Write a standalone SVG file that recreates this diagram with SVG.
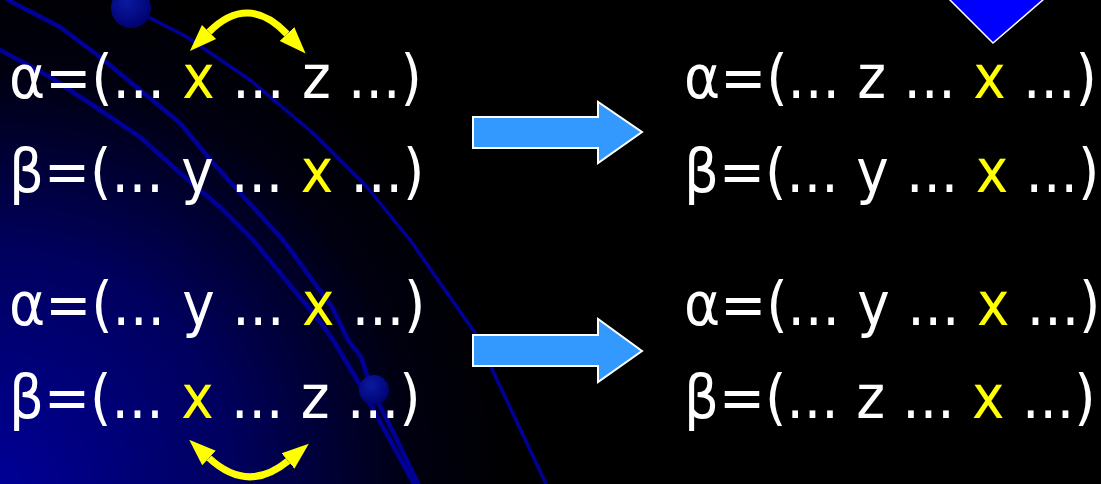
<svg xmlns="http://www.w3.org/2000/svg" width="1101" height="484" viewBox="0 0 1101 484">
  <defs>
    <radialGradient id="bg" cx="0" cy="484" r="520" gradientUnits="userSpaceOnUse">
      <stop offset="0" stop-color="#000096"/>
      <stop offset="0.45" stop-color="#00005e"/>
      <stop offset="0.8" stop-color="#000010"/>
      <stop offset="1" stop-color="#000000"/>
    </radialGradient>
    <radialGradient id="ball" cx="0.4" cy="0.35" r="0.7">
      <stop offset="0" stop-color="#0a1aa0"/>
      <stop offset="1" stop-color="#00006e"/>
    </radialGradient>
    <marker id="yhead" viewBox="0 -11 28 22" refX="0" refY="0" markerWidth="28" markerHeight="22" markerUnits="userSpaceOnUse" orient="auto-start-reverse">
      <path d="M0,-10 L27,0 L0,10 Z" fill="#ffff00"/>
    </marker>
    <style>
      .t { font-family: "DejaVu Sans Condensed", "DejaVu Sans", sans-serif; font-stretch: condensed; font-size: 61px; fill: #ffffff; }
      .y { fill: #ffff00; }
      .orbit { fill: none; stroke: #000098; stroke-width: 4.5; stroke-linejoin: round; stroke-linecap: round; }
      .block { fill: #3399ff; stroke: #ffffff; stroke-width: 2; }
      .swap { fill: none; stroke: #ffff00; stroke-width: 7; }
    </style>
  </defs>

  <rect x="0" y="0" width="1101" height="484" fill="#000000"/>
  <rect x="0" y="0" width="1101" height="484" fill="url(#bg)"/>

  <g id="background-orbits">
    <polyline class="orbit" points="8,0 60,27 100,57 140,90 180,123 213,163 253,207 283,240 332,307 348,340 361,357 372,390 397,440 418,484"/>
    <polyline class="orbit" points="0,50 50,77 100,110 140,137 180,173 220,207 253,240 321,323 333,340 357,380 390,440 414,484"/>
    <polyline class="orbit" style="stroke-width:3.5" points="131,8 187,37 250,80 313,133 367,187 410,240 475,333 546,484"/>
    <circle cx="131" cy="8" r="20" fill="url(#ball)"/>
    <circle cx="374" cy="390" r="15" fill="url(#ball)"/>
  </g>

  <polygon id="blue-triangle" points="930,-20 993,43 1066,-20" fill="#0000ff" stroke="#ffffff" stroke-width="1.5"/>

  <g id="left-top-alpha"><text class="t" x="9" y="98">α=(... <tspan class="y">x</tspan> ... z ...)</text></g>
  <g id="left-top-beta"><text class="t" x="9" y="192">β=(... y ... <tspan class="y">x</tspan> ...)</text></g>
  <g id="left-bottom-alpha"><text class="t" x="9" y="325">α=(... y ... <tspan class="y">x</tspan> ...)</text></g>
  <g id="left-bottom-beta"><text class="t" x="9" y="418">β=(... <tspan class="y">x</tspan> ... z ...)</text></g>

  <g id="right-top-alpha"><text class="t" x="684" y="98">α=(... z ... <tspan class="y">x</tspan> ...)</text></g>
  <g id="right-top-beta"><text class="t" x="684" y="192">β=(... y ... <tspan class="y">x</tspan> ...)</text></g>
  <g id="right-bottom-alpha"><text class="t" x="684" y="325">α=(... y ... <tspan class="y">x</tspan> ...)</text></g>
  <g id="right-bottom-beta"><text class="t" x="684" y="418">β=(... z ... <tspan class="y">x</tspan> ...)</text></g>

  <g id="connectors">
    <path class="swap" d="M209,32 Q248,-7 287,34" marker-start="url(#yhead)" marker-end="url(#yhead)"/>
    <path class="swap" d="M209,458 Q248,494 288,461" marker-start="url(#yhead)" marker-end="url(#yhead)"/>
    <polygon class="block" points="473,117 598,117 598,102 642,132 598,163 598,148 473,148"/>
    <polygon class="block" points="473,335 598,335 598,319 642,351 598,382 598,366 473,366"/>
  </g>
</svg>
